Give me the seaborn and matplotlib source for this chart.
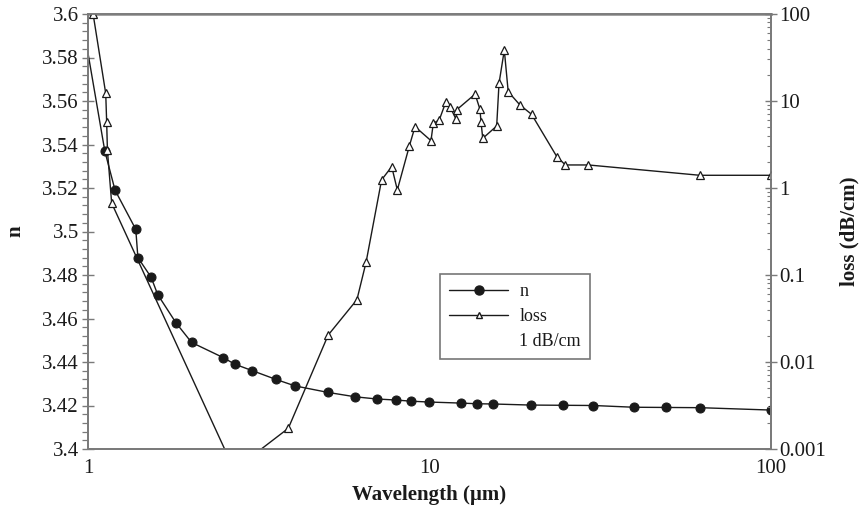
import numpy as np
import pandas as pd
import matplotlib
matplotlib.use("Agg")
import matplotlib.pyplot as plt
import matplotlib.ticker as mticker
from matplotlib.lines import Line2D
import seaborn as sns

# ---- data ----
n_wavelength = [1.0, 1.12, 1.20, 1.38, 1.40, 1.53, 1.60, 1.81, 2.01, 2.49, 2.69,
                3.03, 3.55, 4.04, 5.05, 6.06, 7.0, 8.0, 8.8, 9.94, 12.4, 13.8,
                15.3, 19.8, 24.6, 30.2, 39.6, 49.3, 61.9, 100.0]
n_values = [3.582, 3.537, 3.519, 3.501, 3.488, 3.479, 3.471, 3.458, 3.449, 3.442,
            3.439, 3.436, 3.432, 3.429, 3.426, 3.424, 3.423, 3.4225, 3.422, 3.4216,
            3.4211, 3.4208, 3.4207, 3.4202, 3.4201, 3.4200, 3.4192, 3.4191,
            3.4190, 3.4179]

loss_wavelength = [1.035, 1.127, 1.134, 1.14, 1.173, 2.7, 3.0, 3.86, 5.05, 6.13,
                   6.52, 7.24, 7.75, 8.05, 8.73, 9.07, 10.1, 10.26, 10.68, 11.17,
                   11.48, 11.96, 12.0, 13.6, 14.05, 14.15, 14.32, 15.73, 15.98,
                   16.56, 17.0, 18.4, 19.9, 23.6, 25.0, 29.2, 61.9, 100.0]
loss_values = [100, 12.2, 5.8, 2.7, 0.67, 0.00054, 0.00081, 0.00173, 0.0204, 0.052,
               0.14, 1.24, 1.76, 0.95, 3.04, 5.07, 3.5, 5.55, 6.05, 9.8,
               8.6, 6.17, 7.9, 12.0, 8.04, 5.78, 3.72, 5.16, 15.96,
               38.5, 12.8, 9.0, 7.03, 2.29, 1.84, 1.84, 1.4, 1.4]

x_ticks = [1, 10, 100]
x_tick_labels = ["1", "10", "100"]
n_ticks = [3.4, 3.42, 3.44, 3.46, 3.48, 3.5, 3.52, 3.54, 3.56, 3.58, 3.6]
n_tick_labels = ["3.4", "3.42", "3.44", "3.46", "3.48", "3.5", "3.52", "3.54",
                 "3.56", "3.58", "3.6"]
loss_ticks = [0.001, 0.01, 0.1, 1, 10, 100]
loss_tick_labels = ["0.001", "0.01", "0.1", "1", "10", "100"]

sns.set_theme(style="white")
plt.rcParams["font.family"] = ["Liberation Serif", "DejaVu Serif"]
plt.rcParams["mathtext.fontset"] = "dejavuserif"

fig = plt.figure(figsize=(8.63, 5.14), dpi=100)
ax = fig.add_axes([88 / 863, 1 - 449 / 514, (771 - 88) / 863, (449 - 14) / 514])
ax2 = ax.twinx()

df_n = pd.DataFrame({"wl": n_wavelength, "n": n_values})
df_l = pd.DataFrame({"wl": loss_wavelength, "loss": loss_values})

ink = "#1a1a1a"
sns.lineplot(data=df_n, x="wl", y="n", ax=ax, color=ink, lw=1.0,
             marker="o", markersize=6.5, markerfacecolor=ink, markeredgecolor=ink,
             markevery=list(range(1, len(n_values))),
             estimator=None, sort=False, legend=False)
sns.lineplot(data=df_l, x="wl", y="loss", ax=ax2, color=ink, lw=1.0,
             marker="^", markersize=6, markerfacecolor="white", markeredgecolor=ink,
             markeredgewidth=0.9, estimator=None, sort=False, legend=False)

ax.set_xscale("log")
ax.set_xlim(1, 100)
ax.set_ylim(3.4, 3.6)
ax2.set_yscale("log")
ax2.set_ylim(0.001, 100)

ax.set_xticks(x_ticks)
ax.set_xticklabels(x_tick_labels)
ax.xaxis.set_minor_locator(mticker.LogLocator(base=10, subs=np.arange(2, 10)))
ax.xaxis.set_minor_formatter(mticker.NullFormatter())
ax.set_yticks(n_ticks)
ax.set_yticklabels(n_tick_labels)
ax.yaxis.set_minor_locator(mticker.MultipleLocator(0.004))
ax2.set_yticks(loss_ticks)
ax2.set_yticklabels(loss_tick_labels)
ax2.yaxis.set_minor_locator(mticker.LogLocator(base=10, subs=np.arange(2, 10)))
ax2.yaxis.set_minor_formatter(mticker.NullFormatter())

spine_c = "#7a7a7a"
for a in (ax, ax2):
    for s in a.spines.values():
        s.set_color(spine_c)
        s.set_linewidth(1.3)
ax.spines["top"].set_linewidth(2.0)
ax.spines["top"].set_color("#9a9a9a")

ax.tick_params(axis="x", which="major", direction="inout", length=9, width=1.0,
               color=spine_c, labelsize=15, pad=3, labelcolor=ink)
ax.tick_params(axis="x", which="minor", direction="in", length=4, width=0.9, color=spine_c)
ax.tick_params(axis="y", which="major", direction="inout", length=9, width=1.0,
               color=spine_c, labelsize=15, pad=2, labelcolor=ink)
ax.tick_params(axis="y", which="minor", direction="out", length=4, width=0.9, color=spine_c)
ax2.tick_params(axis="y", which="major", direction="inout", length=8, width=1.0,
                color=spine_c, labelsize=15, pad=2, labelcolor=ink)
ax2.tick_params(axis="y", which="minor", direction="in", length=3, width=0.8, color=spine_c)

ax.set_xlabel("Wavelength (µm)", fontsize=15, fontweight="bold", color=ink, labelpad=5)
ax.set_ylabel("n", fontsize=15, fontweight="bold", color=ink, labelpad=12)
ax2.set_ylabel("loss (dB/cm)", fontsize=15, fontweight="bold", color=ink, labelpad=10)

handles = [
    Line2D([], [], color=ink, lw=1.0, marker="o", markersize=6.5,
           markerfacecolor=ink, markeredgecolor=ink),
    Line2D([], [], color=ink, lw=1.0, marker="^", markersize=5,
           markerfacecolor="white", markeredgecolor=ink),
    Line2D([], [], color="none", lw=0),
]
labels = ["n", "loss", "1 dB/cm"]
leg = ax2.legend(handles, labels, loc="upper left", bbox_to_anchor=(0.515, 0.402),
                 borderaxespad=0, frameon=True, fancybox=False, fontsize=13,
                 handlelength=3.3, handletextpad=0.6, labelspacing=0.45,
                 borderpad=0.5)
leg.get_frame().set_edgecolor("#555555")
leg.get_frame().set_linewidth(1.2)
for t in leg.get_texts():
    t.set_color(ink)

fig.savefig("out.png", dpi=100)
